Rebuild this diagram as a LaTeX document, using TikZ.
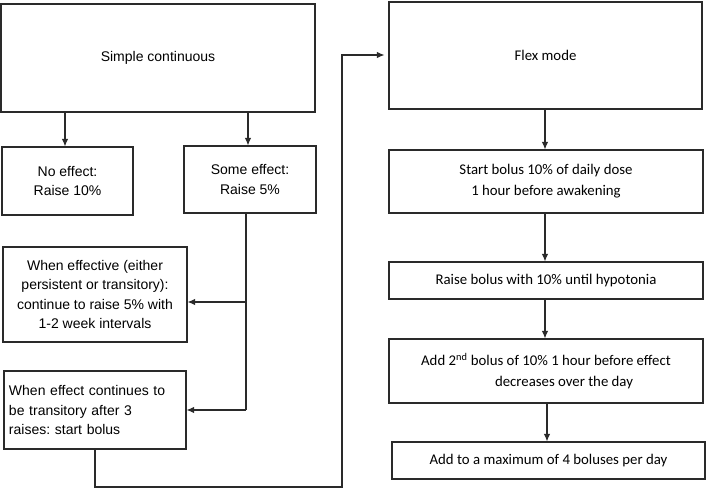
\documentclass[tikz,border=0pt]{standalone}
\usepackage{fontspec}
\setmainfont{Liberation Sans}
\newfontfamily\carl{Carlito}
\usetikzlibrary{arrows.meta}
\definecolor{ln}{HTML}{2A2A2A}
\frenchspacing
\begin{document}
\begin{tikzpicture}[x=1pt,y=-1pt,
  box/.style={draw=ln,line width=1.1pt,rectangle,inner sep=0pt,align=center,text=black},
  lft/.style={box,font=\fontsize{14}{19.5}\selectfont},
  rgt/.style={box,font=\carl\fontsize{14.8}{21}\selectfont},
  arr/.style={draw=ln,line width=1.1pt,-{Latex[length=7.5pt,width=6.5pt]}},
  ln/.style={draw=ln,line width=1.1pt}]
\useasboundingbox (0,0) rectangle (709,490);
% left column
\node[lft,minimum width=314pt,minimum height=108pt] (sc) at (158,58) {Simple continuous};
\node[lft,minimum width=131pt,minimum height=68pt] (ne) at (67.5,181) {No effect:\\Raise 10\%};
\node[lft,minimum width=132pt,minimum height=67pt] (se) at (250,179.5) {Some effect:\\Raise 5\%};
\node[lft,minimum width=184pt,minimum height=95pt] (we) at (95,294.5) {When effective (either\\persistent or transitory):\\continue to raise 5\% with\\1-2 week intervals};
\node[lft,minimum width=182pt,minimum height=78pt,align=left,text width=172pt] (wc) at (95,410) {When effect continues to\\be transitory after 3\\raises: start bolus};
% right column
\node[rgt,minimum width=313pt,minimum height=107pt] (fm) at (545.5,55.5) {Flex mode};
\node[rgt,minimum width=314pt,minimum height=63pt] (sb) at (546,181.5) {Start bolus 10\% of daily dose\\1 hour before awakening};
\node[rgt,minimum width=314pt,minimum height=37pt] (rb) at (546,280.5) {Raise bolus with 10\% until hypotonia};
\node[rgt,minimum width=314pt,minimum height=64pt] (ab) at (546,371) {Add 2\textsuperscript{nd} bolus of 10\% 1 hour before effect\\\hspace*{36pt}decreases over the day};
\node[rgt,minimum width=313pt,minimum height=37pt] (am) at (548.5,460.5) {Add to a maximum of 4 boluses per day};
% connectors left
\coordinate (ca) at (65,0);
\coordinate (cb) at (248,0);
\draw[arr] (sc.south -| ca) -- (ne.north -| ca);
\draw[arr] (sc.south -| cb) -- (se.north -| cb);
\coordinate (t1) at (246,302);
\coordinate (t2) at (246,410);
\draw[ln] (se.south -| t1) -- (t2);
\draw[arr] (t1) -- (t1 -| we.east);
\draw[arr] (t2) -- (t2 -| wc.east);
\coordinate (b1) at (95,487);
\coordinate (b2) at (342,487);
\coordinate (b3) at (342,55);
\draw[arr,shorten >=4pt] (wc.south) -- (b1) -- (b2) -- (b3) -- (b3 -| fm.west);
% connectors right
\coordinate (cr) at (545,0);
\draw[arr] (fm.south -| cr) -- (sb.north -| cr);
\draw[arr] (sb.south -| cr) -- (rb.north -| cr);
\draw[arr] (rb.south -| cr) -- (ab.north -| cr);
\coordinate (cc) at (547,0);
\draw[arr] (ab.south -| cc) -- (am.north -| cc);
\end{tikzpicture}
\end{document}
